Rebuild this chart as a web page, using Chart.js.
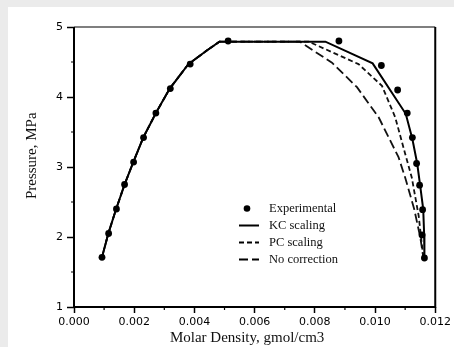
<!DOCTYPE html>
<html><head><meta charset="utf-8">
<script src="https://cdn.jsdelivr.net/npm/chart.js@4.4.1/dist/chart.umd.min.js"></script>
<style>
html,body{margin:0;padding:0;background:#ebebeb;width:454px;height:347px;overflow:hidden}
#panel{position:absolute;left:8px;top:7px;right:0;bottom:0;background:#fff}
canvas{position:absolute;left:0;top:0}
</style></head><body><div id="panel"></div><canvas id="c" width="454" height="347"></canvas>
<script>
// Experimental data
const expX = [0.00093,0.00115,0.00141,0.00168,0.00198,0.00231,0.00272,0.00320,0.00386,0.00512,
              0.00880,0.01021,0.01075,0.01107,0.01124,0.01138,0.01148,0.01158,0.01156,0.01164];
const expY = [1.71,2.05,2.40,2.75,3.07,3.42,3.77,4.12,4.47,4.80,
              4.80,4.45,4.10,3.77,3.42,3.05,2.74,2.39,2.03,1.70];
// KC scaling
const kcX = [0.00093,0.00114,0.00140,0.00168,0.00197,0.00230,0.00272,0.00318,0.00380,0.00440,0.00483,
             0.00835,0.00992,0.01102,0.01124,0.01140,0.01150,0.01160,0.01163,0.01164];
const kcY = [1.71,2.05,2.40,2.75,3.07,3.42,3.77,4.12,4.47,4.66,4.79,
             4.79,4.48,3.76,3.40,3.05,2.73,2.40,2.05,1.70];
// PC scaling
const pcX = [0.00093,0.00114,0.00140,0.00168,0.00197,0.00230,0.00272,0.00318,0.00380,0.00440,0.00483,
             0.00780,0.00945,0.01023,0.01067,0.01100,0.01122,0.01145,0.01160];
const pcY = [1.71,2.05,2.40,2.75,3.07,3.42,3.77,4.12,4.47,4.66,4.79,
             4.79,4.47,4.16,3.71,3.19,2.85,2.30,1.72];
// No correction
const ncX = [0.00093,0.00114,0.00140,0.00168,0.00197,0.00230,0.00272,0.00318,0.00380,0.00440,0.00483,
             0.00750,0.00857,0.00940,0.01012,0.01078,0.01100,0.01130,0.01150,0.01160];
const ncY = [1.71,2.05,2.40,2.75,3.07,3.42,3.77,4.12,4.47,4.66,4.79,
             4.79,4.49,4.14,3.71,3.14,2.85,2.40,2.00,1.72];
// Ticks
const xTickValues = [0,0.002,0.004,0.006,0.008,0.010,0.012];
const xTickLabels = ['0.000','0.002','0.004','0.006','0.008','0.010','0.012'];
const xMinor = [0.001,0.003,0.005,0.007,0.009,0.011];
const yTickValues = [1,2,3,4,5];
const yTickLabels = ['1','2','3','4','5'];
const yMinor = [1.5,2.5,3.5,4.5];
const seriesNames = ['Experimental','KC scaling','PC scaling','No correction'];

const pts = (xs, ys) => xs.map((x, i) => ({x, y: ys[i]}));
const serif = "'Liberation Serif','Times New Roman',serif";
const sans = "'DejaVu Sans',sans-serif";

const framePlugin = {
  id: 'frame',
  afterDraw(chart) {
    const {ctx, chartArea: a} = chart;
    const xs = chart.scales.x, ys = chart.scales.y;
    ctx.save();
    ctx.strokeStyle = '#000';
    ctx.lineWidth = 2;
    ctx.beginPath();
    ctx.moveTo(a.left, a.top); ctx.lineTo(a.left, a.bottom); ctx.lineTo(a.right, a.bottom); ctx.lineTo(a.right, a.top);
    ctx.stroke();
    ctx.lineWidth = 1.2;
    ctx.beginPath(); ctx.moveTo(a.left, a.top); ctx.lineTo(a.right, a.top); ctx.stroke();
    ctx.lineWidth = 1.2;
    ctx.beginPath();
    xMinor.forEach(v => { const p = xs.getPixelForValue(v); ctx.moveTo(p, a.bottom); ctx.lineTo(p, a.bottom + 3); });
    yMinor.forEach(v => { const p = ys.getPixelForValue(v); ctx.moveTo(a.left, p); ctx.lineTo(a.left - 3, p); });
    ctx.stroke();
    // legend
    const x0 = 240, tx = 269, y0 = 208.5, dy = 17;
    ctx.font = "12.5px " + serif;
    ctx.textBaseline = 'middle';
    chart.data.datasets.forEach((ds, i) => {
      const y = y0 + dy * i;
      if (i === 0) {
        ctx.beginPath(); ctx.arc(x0 + 7, y, 3.3, 0, Math.PI * 2); ctx.fillStyle = '#000'; ctx.fill();
      } else {
        ctx.save();
        ctx.strokeStyle = '#000'; ctx.lineWidth = 2;
        ctx.setLineDash(ds.borderDash || []);
        ctx.beginPath(); ctx.moveTo(x0 - 1, y); ctx.lineTo(x0 + 19, y); ctx.stroke();
        ctx.restore();
      }
      ctx.fillStyle = '#111';
      ctx.fillText(seriesNames[i], tx, y);
    });
    ctx.restore();
  }
};

new Chart(document.getElementById('c'), {
  type: 'scatter',
  data: {
    datasets: [
      {label: seriesNames[0], data: pts(expX, expY), showLine: false, pointRadius: 3.4,
       pointBackgroundColor: '#000', pointBorderWidth: 0, borderColor: '#000'},
      {label: seriesNames[1], data: pts(kcX, kcY), showLine: true, pointRadius: 0,
       borderColor: '#000', borderWidth: 2, tension: 0},
      {label: seriesNames[2], data: pts(pcX, pcY), showLine: true, pointRadius: 0,
       borderColor: '#111', borderWidth: 1.8, borderDash: [5, 3], tension: 0},
      {label: seriesNames[3], data: pts(ncX, ncY), showLine: true, pointRadius: 0,
       borderColor: '#111', borderWidth: 1.8, borderDash: [9, 4], tension: 0}
    ]
  },
  options: {
    responsive: false,
    animation: false,
    layout: {padding: {top: 27, right: 17, left: 0, bottom: 0}},
    plugins: {legend: {display: false}, tooltip: {enabled: false}},
    scales: {
      x: {
        type: 'linear', min: 0, max: 0.012,
        afterBuildTicks: s => { s.ticks = xTickValues.map(v => ({value: v})); },
        afterFit: s => { s.height = 40; },
        ticks: {callback: (v, i) => xTickLabels[i], color: '#000', padding: 3,
                font: {family: sans, size: 11}, maxRotation: 0, autoSkip: false},
        grid: {drawOnChartArea: false, drawTicks: true, tickLength: 6, color: '#000', tickWidth: 1.5},
        border: {display: false},
        title: {display: true, text: 'Molar Density, gmol/cm3\u2002\u2002', color: '#111',
                font: {family: serif, size: 15}, padding: {top: 0, bottom: 0}}
      },
      y: {
        type: 'linear', min: 1, max: 5,
        afterBuildTicks: s => { s.ticks = yTickValues.map(v => ({value: v})); },
        afterFit: s => { s.width = 74; },
        ticks: {callback: (v, i) => yTickLabels[i], color: '#000', padding: 4,
                font: {family: sans, size: 11}, autoSkip: false},
        grid: {drawOnChartArea: false, drawTicks: true, tickLength: 7, color: '#000', tickWidth: 1.5},
        border: {display: false},
        title: {display: true, text: '\u2002\u2002\u2002Pressure, MPa', color: '#111',
                font: {family: serif, size: 15}, padding: {top: 23, bottom: 0}}
      }
    }
  },
  plugins: [framePlugin]
});
</script></body></html>
